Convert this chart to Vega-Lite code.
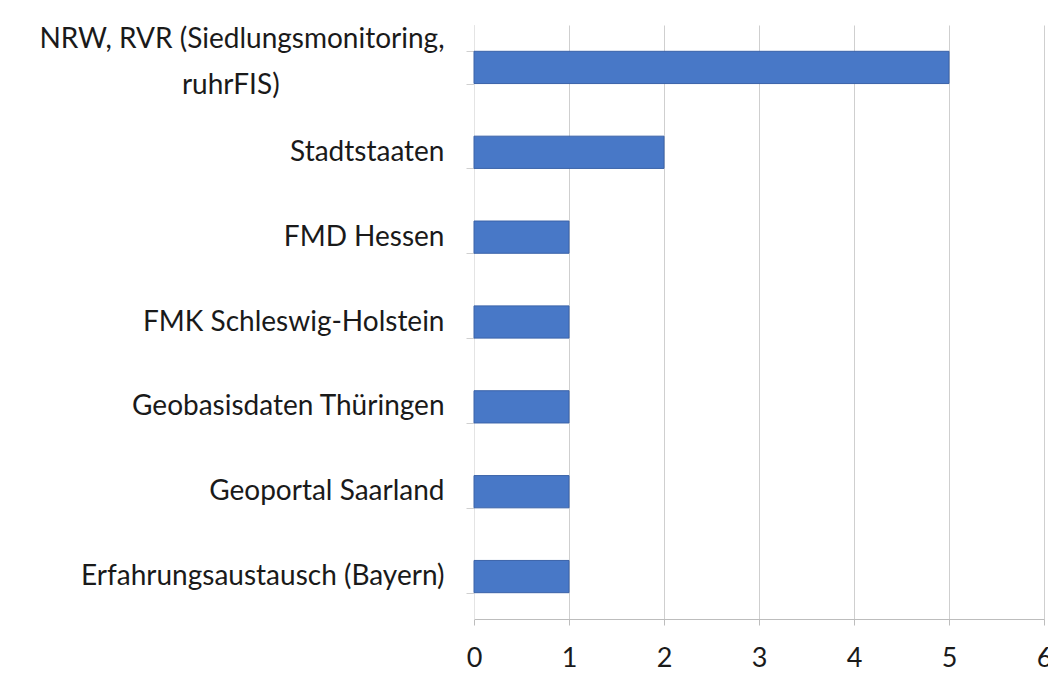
{
  "$schema": "https://vega.github.io/schema/vega-lite/v6.json",
  "autosize": "none",
  "width": 570,
  "height": 594,
  "padding": {"left": 474, "top": 25, "right": 4, "bottom": 64},
  "background": "white",
  "config": {"view": {"stroke": null}},
  "data": {
    "values": [
      {"quelle": "NRW, RVR (Siedlungsmonitoring, ruhrFIS)", "anzahl": 5},
      {"quelle": "Stadtstaaten", "anzahl": 2},
      {"quelle": "FMD Hessen", "anzahl": 1},
      {"quelle": "FMK Schleswig-Holstein", "anzahl": 1},
      {"quelle": "Geobasisdaten Thüringen", "anzahl": 1},
      {"quelle": "Geoportal Saarland", "anzahl": 1},
      {"quelle": "Erfahrungsaustausch (Bayern)", "anzahl": 1}
    ]
  },
  "mark": {"type": "bar", "color": "#4878c7", "stroke": "#3a62a8", "strokeWidth": 1},
  "encoding": {
    "y": {
      "field": "quelle",
      "type": "nominal",
      "sort": null,
      "scale": {"paddingInner": 0.62, "paddingOuter": 0.31},
      "axis": {
        "title": null,
        "labelFont": "Lato",
        "labelFontSize": 28,
        "labelColor": "#1a1a1a",
        "labelPadding": 22,
        "labelLimit": 500,
        "labelLineHeight": 46,
        "labelBaseline": "middle",
        "labelOffset": {"condition": {"test": "datum.value == 'NRW, RVR (Siedlungsmonitoring, ruhrFIS)'", "value": -28}, "value": 0},
        "labelExpr": "datum.value == 'NRW, RVR (Siedlungsmonitoring, ruhrFIS)' ? ['NRW, RVR (Siedlungsmonitoring,', 'ruhrFIS)\u00a0\u00a0\u00a0\u00a0\u00a0\u00a0\u00a0\u00a0\u00a0\u00a0\u00a0\u00a0\u00a0\u00a0\u00a0\u00a0\u00a0\u00a0\u00a0\u00a0\u00a0\u00a0\u00a0\u200b'] : datum.value",
        "domainColor": "#e4e4e4",
        "tickColor": "#d0d0d0",
        "tickBand": "extent",
        "tickSize": 8
      }
    },
    "x": {
      "field": "anzahl",
      "type": "quantitative",
      "scale": {"domain": [0, 6], "nice": false},
      "axis": {
        "title": null,
        "values": [0, 1, 2, 3, 4, 5, 6],
        "labelFont": "Lato",
        "labelFontSize": 27,
        "labelColor": "#1a1a1a",
        "labelPadding": 20,
        "labelFlush": false,
        "gridColor": "#cfcfcf",
        "domainColor": "#bdbdbd",
        "tickColor": "#bdbdbd",
        "tickSize": 6
      }
    }
  }
}
